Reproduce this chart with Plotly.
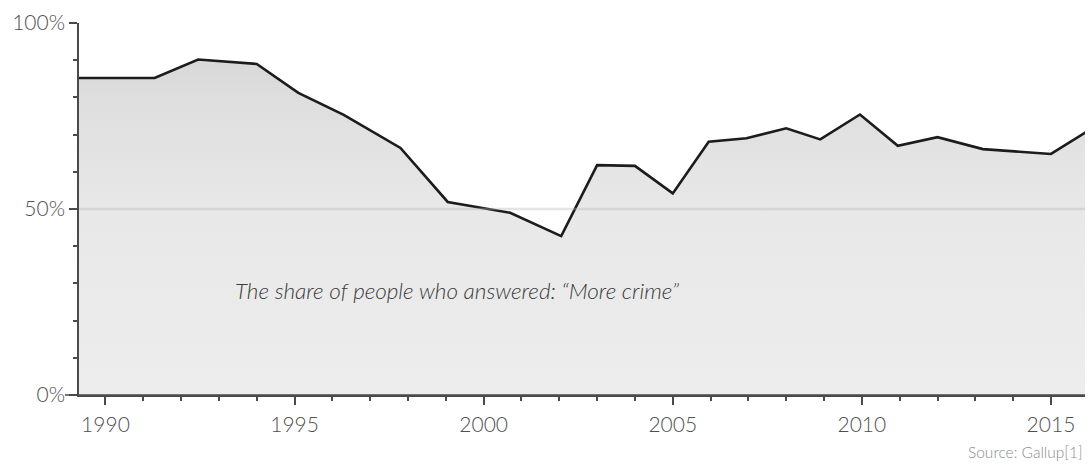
import plotly.graph_objects as go

# Gallup: "Is there more crime in the U.S. than there was a year ago, or less?"
years = [1989.3, 1991.3, 1992.45, 1994.0, 1995.1, 1996.3, 1997.8, 1999.05,
         2000.7, 2002.05, 2003.0, 2004.0, 2005.0, 2005.95, 2006.95, 2008.0,
         2008.9, 2009.95, 2010.95, 2012.0, 2013.2, 2015.0, 2015.95]
more_crime = [85.2, 85.2, 90.2, 89.0, 81.2, 75.3, 66.4, 51.9,
              49.0, 42.7, 61.8, 61.6, 54.2, 68.1, 69.0, 71.7,
              68.7, 75.4, 67.0, 69.3, 66.1, 64.8, 70.8]

year_ticks = [1990, 1995, 2000, 2005, 2010, 2015]
pct_ticks = [0, 50, 100]
pct_labels = ["0%", "50%", "100%"]

axis_col = "#4a4a4a"
font_col = "#4f4f4f"

fig = go.Figure()

fig.add_trace(go.Scatter(
    x=years,
    y=more_crime,
    mode="lines",
    line=dict(color="#1c1c1c", width=2.6),
    fill="tozeroy",
    fillgradient=dict(
        type="vertical",
        start=0,
        stop=100,
        colorscale=[[0, "#ededed"], [0.5, "#e8e8e8"], [0.8, "#dedede"], [1, "#d2d2d2"]],
    ),
    hoverinfo="x+y",
    showlegend=False,
))

# 50% reference line, drawn over the area
fig.add_shape(type="line", xref="paper", yref="y", x0=0, x1=1, y0=50, y1=50,
              line=dict(color="rgba(178,178,178,0.35)", width=2.5), layer="above")

# x axis line runs a little past the y axis on the left
fig.add_shape(type="line", xref="paper", yref="paper", x0=-0.014, x1=1, y0=0, y1=0,
              line=dict(color=axis_col, width=1.5), layer="above")

fig.add_annotation(
    x=1999.3, y=28, xref="x", yref="y",
    text="The share of people who answered: “More crime”",
    showarrow=False,
    font=dict(family="Lato", size=22.5, color="#3a3a3a", style="italic", weight=300),
)

fig.add_annotation(
    x=1, y=0, xref="paper", yref="paper", xanchor="right", yanchor="middle",
    xshift=0, yshift=-57,
    text="Source: Gallup[1]",
    showarrow=False,
    font=dict(family="Lato", size=15.5, color="#8a8a8a", weight=300),
)

fig.update_xaxes(
    range=[1989.3, 2015.9],
    tickvals=year_ticks,
    ticks="outside",
    ticklen=8,
    tickwidth=1.5,
    tickcolor=axis_col,
    ticklabelstandoff=2,
    minor=dict(dtick=1, ticks="outside", ticklen=4, tickwidth=1.5, tickcolor=axis_col),
    showgrid=False,
    zeroline=False,
    showline=True,
    linecolor=axis_col,
    linewidth=1.5,
    tickfont=dict(family="Lato", size=21, color=font_col, weight=300),
)

fig.update_yaxes(
    range=[0, 100],
    tickvals=pct_ticks,
    ticktext=pct_labels,
    ticks="outside",
    ticklen=8,
    tickwidth=1.5,
    tickcolor=axis_col,
    minor=dict(dtick=10, ticks="outside", ticklen=4, tickwidth=1.5, tickcolor=axis_col),
    showgrid=False,
    zeroline=False,
    showline=True,
    linecolor=axis_col,
    linewidth=1.5,
    tickfont=dict(family="Lato", size=21, color=font_col, weight=300),
)

fig.update_layout(
    width=1088,
    height=466,
    margin=dict(l=79, r=3, t=23, b=71),
    paper_bgcolor="white",
    plot_bgcolor="white",
)

# drop the default page margin so the figure fills the window exactly
fig.write_html("out.html", config={"displayModeBar": False},
               post_script="document.body.style.margin='0';")
